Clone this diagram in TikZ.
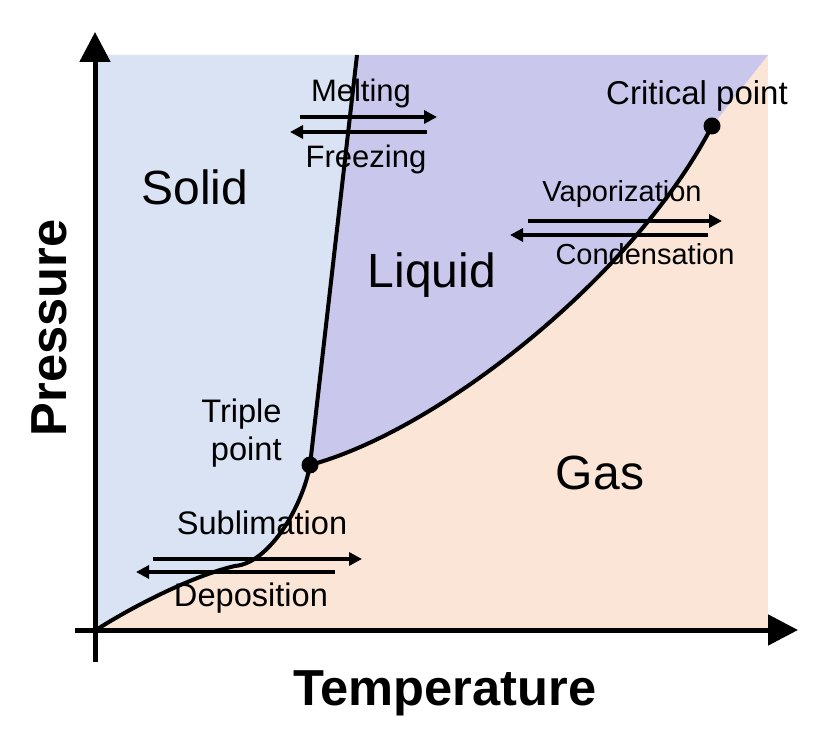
\documentclass[tikz,border=0pt]{standalone}
\usepackage{fontspec}
\setmainfont{Liberation Sans}
\usetikzlibrary{arrows.meta}
\definecolor{solidblue}{RGB}{218,227,243}
\definecolor{liquidviolet}{RGB}{201,199,236}
\definecolor{gaspeach}{RGB}{251,229,214}

\begin{document}
\begin{tikzpicture}[
		x=0.5pt, y=-0.5pt,
		axis/.style={line width=2.5pt, -{Triangle[length=15pt,width=15pt]}},
		boundary/.style={line width=2pt},
		change/.style={line width=2pt, -{Triangle[length=6.5pt,width=6.5pt]}},
		dot/.style={circle, fill=black, inner sep=0pt, minimum size=8.5pt},
		phase/.style={inner sep=0pt, anchor=base, font=\fontsize{24}{28}\selectfont},
		note/.style={inner sep=0pt, anchor=base, font=\fontsize{#1}{19}\selectfont},
		note/.default=15.5,
		axislabel/.style={inner sep=0pt, anchor=base, font=\fontsize{25.3}{28}\selectfont\bfseries}
		]
		\useasboundingbox (0,0) rectangle (829,747);
		
		% ==========================================
		% KEY POINTS
		% ==========================================
		\coordinate (origin) at (96,630);
		\coordinate (subbend) at (235,566);
		\coordinate (melttop) at (357,55);
		\coordinate (corner) at (768,55);
		\node[dot] (triple) at (310,465) {};
		\node[dot] (critical) at (712,126) {};
		
		% ==========================================
		% PHASE REGIONS
		% ==========================================
		\fill[gaspeach] (96,55) rectangle (768,630);
		\fill[solidblue] (origin) .. controls (135,605) and (195,575) .. (subbend)
		.. controls (270,563) and (303,505) .. (triple.center) -- (melttop) -- (96,55) -- cycle;
		\fill[liquidviolet] (triple.center) -- (melttop) -- (corner) -- (critical.center)
		.. controls (635,275) and (440,430) .. (triple.center) -- cycle;
		
		% ==========================================
		% AXES
		% ==========================================
		\coordinate (ybottom) at (95,662);
		\coordinate (ytop) at (95,32);
		\coordinate (xleft) at (75,630);
		\coordinate (xright) at (798,630);
		\draw[axis] (ybottom) -- (ytop);
		\draw[axis] (xleft) -- (xright);
		
		\node[axislabel, rotate=90] (pressure) at (66,328) {Pressure};
		\node[axislabel] (temperature) at (445,705) {Temperature};
		
		% ==========================================
		% PHASE NAMES
		% ==========================================
		\node[phase] (solid) at (195,205) {Solid};
		\node[phase] (liquid) at (432,288) {Liquid};
		\node[phase] (gas) at (600,490) {Gas};
		
		% ==========================================
		% PHASE CHANGES
		% ==========================================
		\node[note] (melting) at (361,102) {Melting};
		\node[note] (freezing) at (366,168) {Freezing};
		\coordinate (meltA) at (300,117);
		\coordinate (meltB) at (437,117);
		\coordinate (freezeA) at (427,132);
		\coordinate (freezeB) at (290,132);
		\draw[change] (meltA) -- (meltB);
		\draw[change] (freezeA) -- (freezeB);
		
		\node[note=14.5] (vaporization) at (622,202) {Vaporization};
		\node[note=14.5] (condensation) at (645,265) {Condensation};
		\coordinate (vapA) at (528,221);
		\coordinate (vapB) at (722,221);
		\coordinate (condA) at (708,235);
		\coordinate (condB) at (510,235);
		\draw[change] (vapA) -- (vapB);
		\draw[change] (condA) -- (condB);
		
		\node[note=16.3] (sublimation) at (262,535) {Sublimation};
		\node[note=16.3] (deposition) at (251,607) {Deposition};
		\coordinate (subA) at (153,559);
		\coordinate (subB) at (362,559);
		\coordinate (depA) at (335,572);
		\coordinate (depB) at (136,572);
		\draw[change] (subA) -- (subB);
		\draw[change] (depA) -- (depB);
		
		\node[note=16.5] (criticallabel) at (697,105) {Critical point};
		\node[note=16.3, anchor=east, align=right] (triplelabel) at (282,433) {Triple\\point};
		
		% ==========================================
		% PHASE BOUNDARIES
		% ==========================================
		\draw[boundary] (origin) .. controls (135,605) and (195,575) .. (subbend)
		.. controls (270,563) and (303,505) .. (triple.center);
		\draw[boundary] (triple.center) -- (melttop);
		\draw[boundary] (triple.center) .. controls (440,430) and (635,275) .. (critical.center);
		\node[dot] at (triple) {};
		\node[dot] at (critical) {};
		
	\end{tikzpicture}
\end{document}
